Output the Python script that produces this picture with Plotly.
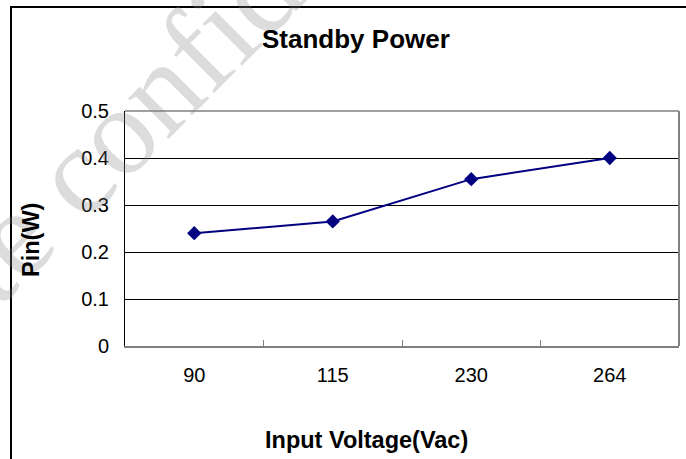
import plotly.graph_objects as go

# Standby power vs input voltage
voltages = ["90", "115", "230", "264"]
pin_w = [0.24, 0.265, 0.355, 0.40]

y_ticks = [0, 0.1, 0.2, 0.3, 0.4, 0.5]
y_tick_text = ["0", "0.1", "0.2", "0.3", "0.4", "0.5"]

W, H = 686, 459
M_L, M_R, M_T, M_B = 125, 7, 111, 113
PW = W - M_L - M_R
PH = H - M_T - M_B

FONT = "Liberation Sans, Arial, sans-serif"


def px(x):
    # screen pixel -> paper x
    return (x - M_L) / PW


def py(y):
    # screen pixel -> paper y
    return (H - M_B - y) / PH


fig = go.Figure()

fig.add_trace(
    go.Scatter(
        x=voltages,
        y=pin_w,
        mode="lines+markers",
        line=dict(color="#000080", width=2),
        marker=dict(symbol="diamond", size=11, color="#000080"),
        showlegend=False,
    )
)

fig.update_layout(
    width=W,
    height=H,
    margin=dict(l=M_L, r=M_R, t=M_T, b=M_B),
    paper_bgcolor="white",
    plot_bgcolor="white",
    font=dict(family=FONT, color="black", size=20),
    xaxis=dict(
        type="category",
        range=[-0.5, len(voltages) - 0.5],
        showgrid=False,
        showline=True,
        linecolor="#808080",
        linewidth=2,
        ticks="inside",
        ticklen=6,
        tickwidth=1,
        tickcolor="#808080",
        tickson="boundaries",
        tickfont=dict(size=20),
        ticklabelstandoff=10,
        zeroline=False,
    ),
    yaxis=dict(
        range=[0, 0.5],
        tickvals=y_ticks,
        ticktext=y_tick_text,
        showgrid=True,
        gridcolor="black",
        gridwidth=1,
        showline=True,
        linecolor="black",
        linewidth=1,
        ticks="",
        tickfont=dict(size=20),
        ticklabelstandoff=11,
        zeroline=False,
    ),
    shapes=[
        # plot area top and right edges
        dict(type="line", xref="paper", yref="paper", x0=0, x1=1, y0=1, y1=1,
             line=dict(color="#808080", width=1.5)),
        dict(type="line", xref="paper", yref="paper", x0=1, x1=1, y0=0, y1=1,
             line=dict(color="#808080", width=2)),
        # chart frame
        dict(type="rect", xref="paper", yref="paper",
             x0=px(11), x1=px(720), y0=py(490), y1=py(7),
             line=dict(color="black", width=2)),
    ],
    annotations=[
        dict(text="Private confidential", xref="paper", yref="paper",
             x=px(128), y=py(120), xanchor="center", yanchor="middle",
             textangle=-45, showarrow=False,
             font=dict(family="Liberation Serif, serif", size=125,
                       color="rgba(128,128,128,0.28)")),
        dict(text="<b>Standby Power</b>", xref="paper", yref="paper",
             x=px(355.5), y=py(39), xanchor="center", yanchor="middle",
             showarrow=False, font=dict(size=26)),
        dict(text="<b>Input Voltage(Vac)</b>", xref="paper", yref="paper",
             x=px(366.5), y=py(440), xanchor="center", yanchor="middle",
             showarrow=False, font=dict(size=23.5)),
        dict(text="<b>Pin(W)</b>", xref="paper", yref="paper",
             x=px(31), y=py(240), xanchor="center", yanchor="middle",
             textangle=-90, showarrow=False, font=dict(size=23.5)),
    ],
)

# drop the page's default body margin so the figure fills the window
fig.write_html(
    "out.html",
    config={"displayModeBar": False},
    post_script="document.body.style.margin = '0';",
)
